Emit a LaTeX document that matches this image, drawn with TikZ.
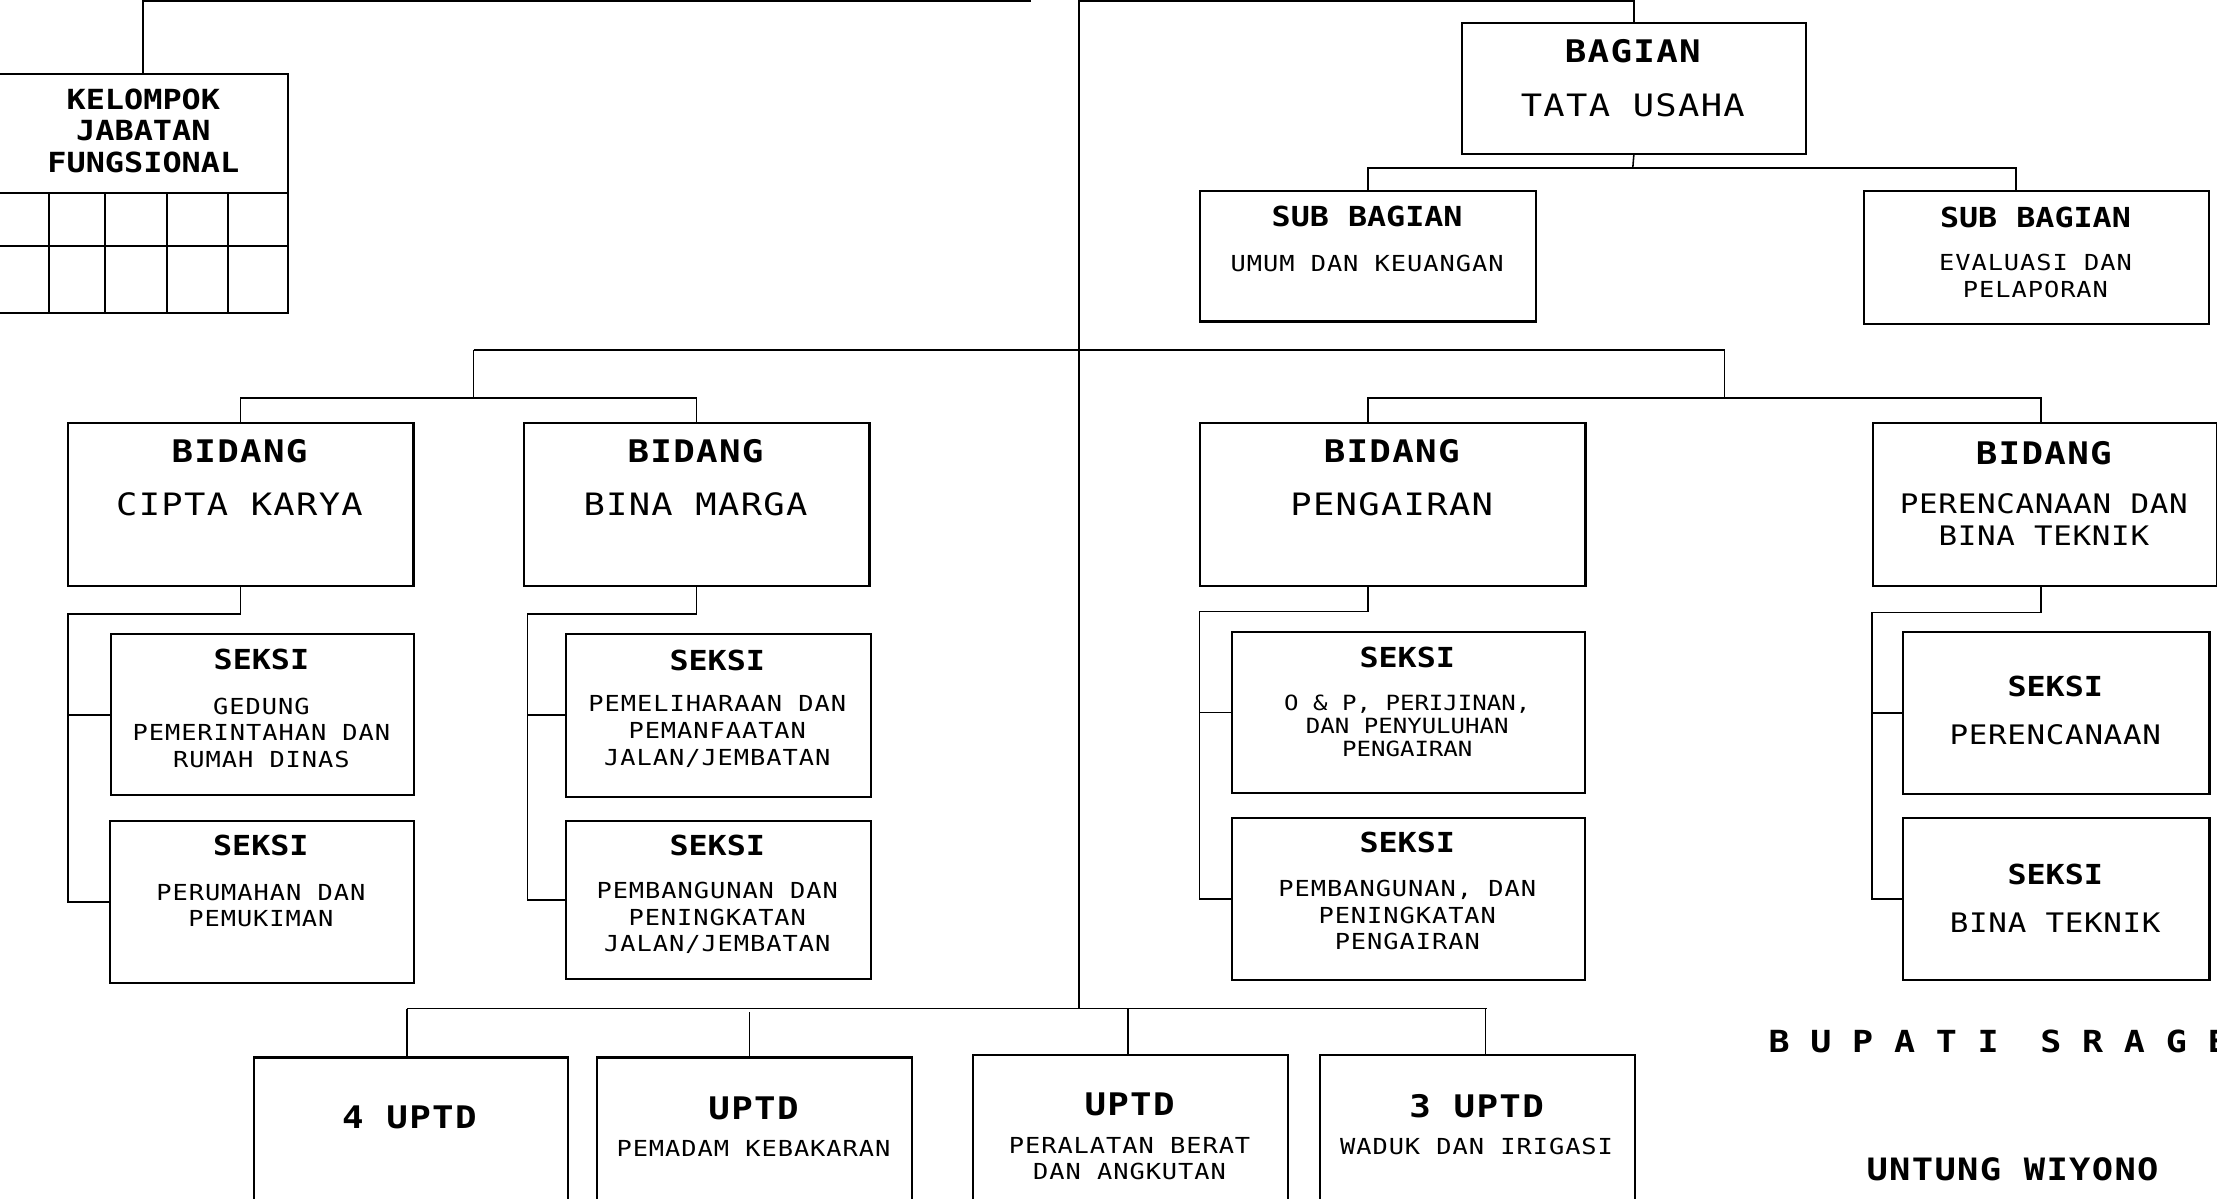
\documentclass[tikz,border=0pt]{standalone}
\usepackage{fontspec}
\newfontfamily\fsA{DejaVu Sans Mono}[FakeStretch=1.15, LetterSpace=4.3]
\newfontfamily\fsB{DejaVu Sans Mono}[FakeStretch=1.15, LetterSpace=2.5]
\newfontfamily\fsC{DejaVu Sans Mono}[FakeStretch=1.15]
\begin{document}
\begin{tikzpicture}[x=1pt,y=-1pt,
  box/.style={draw, line width=1.5pt, rectangle, inner sep=0pt, anchor=north west},
  conn/.style={line width=1.1pt},
  txt/.style={inner sep=0pt, align=center},
  tb/.style={txt, font=\fsA\bfseries\fontsize{22}{26}\selectfont},
  tr/.style={txt, font=\fsA\fontsize{21.8}{26}\selectfont},
  mr/.style={txt, font=\fsB\fontsize{19}{22.3}\selectfont},
  sb/.style={txt, font=\fsC\bfseries\fontsize{19.5}{24}\selectfont},
  sr/.style={txt, font=\fsA\fontsize{15.6}{18.8}\selectfont},
  kel/.style={txt, font=\fsC\bfseries\fontsize{19.6}{22.5}\selectfont},
  op/.style={txt, font=\fsC\fontsize{14.8}{16.6}\selectfont},
]
\useasboundingbox (0,0) rectangle (1568,848);
\fill[white] (0,0) rectangle (1568,848);
\clip (0,0) rectangle (1568,848);

% ---------- boxes ----------
\node[box, minimum width=204.7pt, minimum height=169pt] (kel) at (-2,51.4) {};
\node[box, minimum width=243.6pt, minimum height=92.6pt] (bag) at (1033,15.4) {};
\node[box, minimum width=237.4pt, minimum height=92.2pt] (su) at (848.2,134.4) {};
\node[box, minimum width=244.1pt, minimum height=94.5pt] (se) at (1317.6,134.2) {};
\node[box, minimum width=244.6pt, minimum height=115.2pt] (ck) at (47.1,298.3) {};
\node[box, minimum width=244.6pt, minimum height=115.2pt] (bm) at (369.6,298.3) {};
\node[box, minimum width=272.6pt, minimum height=115.2pt] (pg) at (848,298.3) {};
\node[box, minimum width=243.5pt, minimum height=115.2pt] (pr) at (1323.8,298.3) {};
\node[box, minimum width=214.5pt, minimum height=113.9pt] (g1) at (77.6,447.9) {};
\node[box, minimum width=215pt, minimum height=114.9pt] (g2) at (77,579.6) {};
\node[box, minimum width=215.8pt, minimum height=115.2pt] (m1) at (399.4,447.5) {};
\node[box, minimum width=215.8pt, minimum height=112.2pt] (m2) at (399.4,579.6) {};
\node[box, minimum width=249.4pt, minimum height=114.4pt] (p1) at (870.6,446) {};
\node[box, minimum width=249.4pt, minimum height=114.7pt] (p2) at (870.6,577.9) {};
\node[box, minimum width=216.6pt, minimum height=114.8pt] (r1) at (1345.3,446) {};
\node[box, minimum width=216.6pt, minimum height=114.7pt] (r2) at (1345.3,577.9) {};
\node[box, minimum width=222.3pt, minimum height=120pt] (u1) at (178.6,747.2) {};
\node[box, minimum width=222.3pt, minimum height=120pt] (u2) at (421.7,747.2) {};
\node[box, minimum width=223.3pt, minimum height=120pt] (u3) at (687.2,745.3) {};
\node[box, minimum width=223.2pt, minimum height=120pt] (u4) at (932.7,745.3) {};

% grid of the functional group box
\draw[line width=1.5pt] (-2,136.3) -- (202.7,136.3);
\draw[line width=1.5pt] (-2,173.8) -- (202.7,173.8);
\foreach \gx in {34.9,74.5,117.9,161.5}
  \draw[line width=1.3pt] (\gx,136.3) -- (\gx,220.4);

% ---------- texts ----------
\node[kel] (kelt) at (101.4,92.5) {KELOMPOK\\JABATAN\\FUNGSIONAL};
\node[tb] (bagt) at (1154.8,36.5) {BAGIAN};
\node[tr] (bagb) at (1154.8,74.4) {TATA USAHA};
\node[sb] (sut) at (966.9,153) {SUB BAGIAN};
\node[sr] (sub) at (966.9,186) {UMUM DAN KEUANGAN};
\node[sb] (set) at (1439.6,153.5) {SUB BAGIAN};
\node[sr] (seb) at (1439.6,195) {EVALUASI DAN\\PELAPORAN};
\node[tb] (ckt) at (169.4,319.4) {BIDANG};
\node[tr] (ckb) at (169.4,356.7) {CIPTA KARYA};
\node[tb] (bmt) at (491.9,319.4) {BIDANG};
\node[tr] (bmb) at (491.9,356.7) {BINA MARGA};
\node[tb] (pgt) at (984.3,319.4) {BIDANG};
\node[tr] (pgb) at (984.3,356.7) {PENGAIRAN};
\node[tb] (prt) at (1445.5,320.4) {BIDANG};
\node[mr] (prb) at (1445.5,367.5) {PERENCANAAN DAN\\BINA TEKNIK};
\node[sb] (g1t) at (184.9,466.6) {SEKSI};
\node[sr] (g1b) at (184.9,518.3) {GEDUNG\\PEMERINTAHAN DAN\\RUMAH DINAS};
\node[sb] (g2t) at (184.5,598) {SEKSI};
\node[sr] (g2b) at (184.5,640.5) {PERUMAHAN DAN\\PEMUKIMAN};
\node[sb] (m1t) at (507.3,466.8) {SEKSI};
\node[sr] (m1b) at (507.3,517.3) {PEMELIHARAAN DAN\\PEMANFAATAN\\JALAN/JEMBATAN};
\node[sb] (m2t) at (507.3,598) {SEKSI};
\node[sr] (m2b) at (507.3,649.2) {PEMBANGUNAN DAN\\PENINGKATAN\\JALAN/JEMBATAN};
\node[sb] (p1t) at (995.3,465) {SEKSI};
\node[op] (p1b) at (995.3,513.4) {O \& P, PERIJINAN,\\DAN PENYULUHAN\\PENGAIRAN};
\node[sb] (p2t) at (995.3,596.1) {SEKSI};
\node[sr] (p2b) at (995.3,647.2) {PEMBANGUNAN, DAN\\PENINGKATAN\\PENGAIRAN};
\node[sb] (r1t) at (1453.6,485.2) {SEKSI};
\node[mr] (r1b) at (1453.6,519.4) {PERENCANAAN};
\node[sb] (r2t) at (1453.6,618.4) {SEKSI};
\node[mr] (r2b) at (1453.6,652.7) {BINA TEKNIK};
\node[tb] (u1t) at (289.5,790) {4 UPTD};
\node[tb] (u2t) at (532.9,783.7) {UPTD};
\node[sr] (u2b) at (532.9,812.6) {PEMADAM KEBAKARAN};
\node[tb] (u3t) at (798.9,781) {UPTD};
\node[sr] (u3b) at (798.9,819.5) {PERALATAN BERAT\\DAN ANGKUTAN};
\node[tb] (u4t) at (1044.3,782.3) {3 UPTD};
\node[sr] (u4b) at (1044.3,810.7) {WADUK DAN IRIGASI};
\node[inner sep=0pt, anchor=west, font=\fsC\bfseries\fontsize{21.5}{24}\selectfont]
  (bup) at (1250.6,736.7) {\spaceskip=14.7pt B U P A T I \ S R A G E};
\node[inner sep=0pt, font=\fsA\bfseries\fontsize{21.8}{24}\selectfont]
  (unt) at (1423.4,826.9) {UNTUNG WIYONO};

% ---------- connectors ----------
\coordinate (vtop) at (763.1,-2);
\coordinate (vbot) at (763.1,713.4);
\coordinate (tl) at (729,0.8);
\coordinate (tr) at (763.1,0.8);
\draw[conn] (vtop) -- (vbot);
\draw[conn] (kel.north) |- (tl);
\draw[conn] (tr) -| (bag.north);

\coordinate (jb) at (1154.8,118.8);
\draw[conn] (bag.south) -- (jb);
\draw[conn] (su.north) |- (jb) -| ([xshift=-14.6pt]se.north);

\coordinate (ml) at (335,247.4);
\coordinate (mr) at (1219.8,247.4);
\coordinate (hl) at (335,281.5);
\coordinate (hr) at (1219.8,281.5);
\draw[conn] (ml) -- (mr);
\draw[conn] (ml) -- (hl);
\draw[conn] (mr) -- (hr);
\draw[conn] (ck.north) |- (hl) -| (bm.north);
\draw[conn] ([xshift=-17.5pt]pg.north) |- (hr) -| ([xshift=-2.7pt]pr.north);

\coordinate (jck) at (48.1,434.3);
\draw[conn] (ck.south) |- (jck) |- (g2.west);
\draw[conn] (jck |- g1.west) -- (g1.west);
\coordinate (jbm) at (373.1,434.3);
\draw[conn] (bm.south) |- (jbm) |- (m2.west);
\draw[conn] (jbm |- m1.west) -- (m1.west);
\coordinate (jpg) at (848.3,432.5);
\draw[conn] ([xshift=-17.5pt]pg.south) |- (jpg) |- (p2.west);
\draw[conn] (jpg |- p1.west) -- (p1.west);
\coordinate (jpr) at (1324,433.3);
\draw[conn] ([xshift=-2.7pt]pr.south) |- (jpr) |- (r2.west);
\draw[conn] (jpr |- r1.west) -- (r1.west);

\coordinate (ul) at (287.8,713.4);
\coordinate (ur) at (1051.5,713.4);
\draw[conn] (ul) -- (ur);
\draw[conn] (ul) -- (ul |- u1.north);
\draw[conn] ([xshift=-3.4pt]u2.north) -- ++(0,-31.6);
\draw[conn] ([xshift=-1.7pt]u3.north) -- ([xshift=-1.7pt]u3.north |- ur);
\draw[conn] ([xshift=5.7pt]u4.north) -- ([xshift=5.7pt]u4.north |- ur);
\end{tikzpicture}
\end{document}
